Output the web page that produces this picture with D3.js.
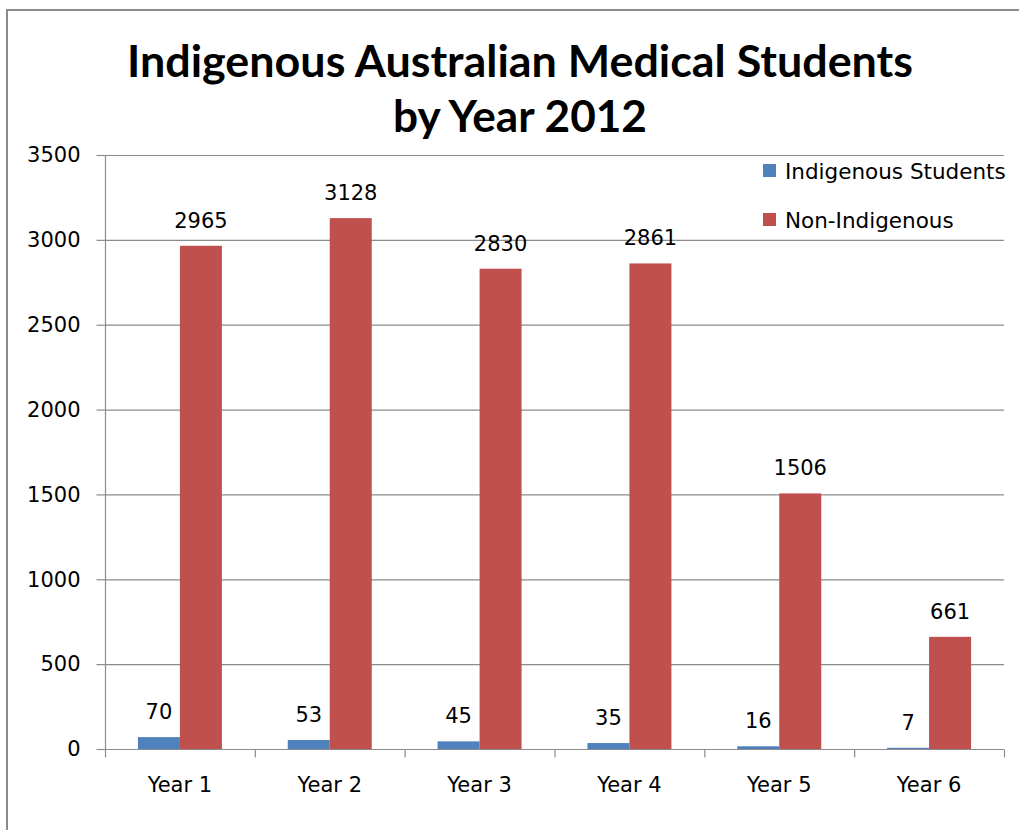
<!DOCTYPE html>
<html>
<head>
<meta charset="utf-8">
<script src="https://cdn.jsdelivr.net/npm/d3@7"></script>
<style>
  body { margin: 0; background: #fff; }
  svg { display: block; }
</style>
</head>
<body>
<div id="container"></div>
<script>
// chart data
var categories = ["Year 1", "Year 2", "Year 3", "Year 4", "Year 5", "Year 6"];
var seriesNames = ["Indigenous Students", "Non-Indigenous"];
var indigenous = [70, 53, 45, 35, 16, 7];
var nonIndigenous = [2965, 3128, 2830, 2861, 1506, 661];
var yTicks = [0, 500, 1000, 1500, 2000, 2500, 3000, 3500];
var titleLines = ["Indigenous Australian Medical Students", "by Year 2012"];

var colors = ["#4F81BD", "#C0504D"];
var W = 1019, H = 830;
var plot = {left: 105, right: 1004, top: 155, bottom: 749};
var font = "'DejaVu Sans', sans-serif";

var svg = d3.select("#container")
  .append("svg")
  .attr("width", W)
  .attr("height", H);

// outer frame (only top and left edges are visible in the picture)
svg.append("path")
  .attr("d", "M7," + H + "V10H" + W)
  .attr("fill", "none")
  .attr("stroke", "#8c8c8c")
  .attr("stroke-width", 2);

// title
svg.append("g")
  .selectAll("text")
  .data(titleLines)
  .enter().append("text")
  .attr("x", 520)
  .attr("y", function(d, i) { return 77 + i * 55; })
  .attr("text-anchor", "middle")
  .attr("font-family", "Lato, 'Open Sans', sans-serif")
  .attr("font-weight", "bold")
  .attr("font-size", 44)
  .attr("textLength", function(d, i) { return i == 0 ? 786 : 254; })
  .attr("lengthAdjust", "spacingAndGlyphs")
  .attr("fill", "#000")
  .text(function(d) { return d; });

var rows = categories.map(function(c, i) {
  return {cat: c, values: [indigenous[i], nonIndigenous[i]]};
});

var x0 = d3.scaleBand()
  .domain(categories)
  .range([plot.left, plot.right]);

var barW = 42;
var x1 = d3.scaleBand()
  .domain(d3.range(seriesNames.length))
  .range([x0.bandwidth() / 2 - barW, x0.bandwidth() / 2 + barW]);

var y = d3.scaleLinear()
  .domain([0, 3500])
  .range([plot.bottom, plot.top]);

// gridlines
svg.append("g")
  .selectAll("line")
  .data(yTicks.slice(1))
  .enter().append("line")
  .attr("x1", plot.left)
  .attr("x2", plot.right)
  .attr("y1", function(d) { return y(d) + 0.5; })
  .attr("y2", function(d) { return y(d) + 0.5; })
  .attr("stroke", "#8c8c8c")
  .attr("stroke-width", 1.2);

// y axis
var yAxis = svg.append("g")
  .attr("transform", "translate(" + (plot.left + 0.5) + ",0)")
  .call(d3.axisLeft(y).tickValues(yTicks).tickFormat(d3.format("d")).tickSize(9).tickPadding(16));
yAxis.selectAll("line, path").attr("stroke", "#8c8c8c").attr("stroke-width", 1.2);
yAxis.selectAll("text")
  .attr("font-family", font)
  .attr("font-size", 21)
  .attr("fill", "#000");
yAxis.select(".domain").attr("d", "M0," + plot.top + "V" + plot.bottom);

// bars
var groups = svg.append("g")
  .selectAll("g")
  .data(rows)
  .enter().append("g")
  .attr("transform", function(d) { return "translate(" + x0(d.cat) + ",0)"; });

groups.selectAll("rect")
  .data(function(d) { return d.values; })
  .enter().append("rect")
  .attr("x", function(d, i) { return x1(i); })
  .attr("width", x1.bandwidth())
  .attr("y", function(d) { return y(d); })
  .attr("height", function(d) { return y(0) - y(d); })
  .attr("fill", function(d, i) { return colors[i]; });

groups.selectAll("text")
  .data(function(d) { return d.values; })
  .enter().append("text")
  .attr("x", function(d, i) { return x1(i) + x1.bandwidth() / 2; })
  .attr("y", function(d) { return y(d) - 18; })
  .attr("text-anchor", "middle")
  .attr("font-family", font)
  .attr("font-size", 21)
  .attr("fill", "#000")
  .text(function(d) { return d; });

// x axis with ticks between categories
var xAxis = svg.append("g")
  .attr("transform", "translate(0," + (plot.bottom + 0.5) + ")");
xAxis.append("line")
  .attr("x1", plot.left)
  .attr("x2", plot.right)
  .attr("stroke", "#8c8c8c")
  .attr("stroke-width", 1.2);
xAxis.selectAll(".tick")
  .data(categories.concat([null]))
  .enter().append("line")
  .attr("class", "tick")
  .attr("x1", function(d) { return (d ? x0(d) : plot.right) + 0.5; })
  .attr("x2", function(d) { return (d ? x0(d) : plot.right) + 0.5; })
  .attr("y1", 0)
  .attr("y2", 8)
  .attr("stroke", "#8c8c8c")
  .attr("stroke-width", 1.2);
xAxis.selectAll("text")
  .data(categories)
  .enter().append("text")
  .attr("x", function(d) { return x0(d) + x0.bandwidth() / 2; })
  .attr("y", 42)
  .attr("text-anchor", "middle")
  .attr("font-family", font)
  .attr("font-size", 21)
  .attr("fill", "#000")
  .text(function(d) { return d; });

// legend
var legend = svg.append("g")
  .selectAll("g")
  .data(seriesNames)
  .enter().append("g")
  .attr("transform", function(d, i) { return "translate(763," + (171 + i * 49) + ")"; });

legend.append("rect")
  .attr("x", 0)
  .attr("y", -7)
  .attr("width", 13)
  .attr("height", 13)
  .attr("fill", function(d, i) { return colors[i]; });

legend.append("text")
  .attr("x", 22)
  .attr("y", 0)
  .attr("dy", "0.35em")
  .attr("font-family", font)
  .attr("font-size", 21.5)
  .attr("fill", "#000")
  .text(function(d) { return d; });
</script>
</body>
</html>
